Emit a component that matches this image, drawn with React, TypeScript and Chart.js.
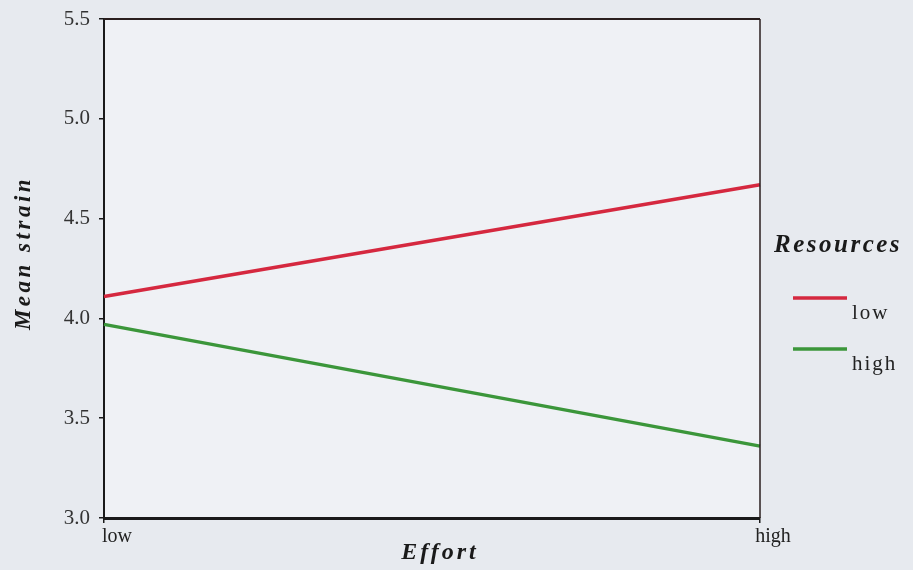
import React, { useEffect, useRef } from "react";
import { Chart, registerables } from "chart.js";

Chart.register(...registerables);

// Effort levels on the x axis
const effortLevels: string[] = ["low", "high"];
// Mean strain per effort level, one series per resources level
const strainLowResources: number[] = [4.11, 4.67];
const strainHighResources: number[] = [3.97, 3.36];
const seriesNames: string[] = ["low", "high"];
const seriesColors: string[] = ["#d5283f", "#3b963a"];
// Y axis range and step
const yMin = 3.0;
const yMax = 5.5;
const yStep = 0.5;

const SERIF = "'Liberation Serif', 'DejaVu Serif', serif";

const decorPlugin = {
  id: "decor",
  beforeDraw(chart: any) {
    const { ctx, width, height, chartArea } = chart;
    ctx.save();
    ctx.fillStyle = "#e7eaef";
    ctx.fillRect(0, 0, width, height);
    ctx.fillStyle = "#eff1f5";
    ctx.fillRect(
      chartArea.left,
      chartArea.top,
      chartArea.right - chartArea.left,
      chartArea.bottom - chartArea.top
    );
    ctx.restore();
  },
  afterDraw(chart: any) {
    const { ctx, chartArea } = chart;
    ctx.save();
    // frame: top and right edges
    ctx.strokeStyle = "#2a1e1e";
    ctx.lineWidth = 2;
    ctx.beginPath();
    ctx.moveTo(chartArea.left, chartArea.top);
    ctx.lineTo(chartArea.right, chartArea.top);
    ctx.stroke();
    ctx.lineWidth = 1.5;
    ctx.beginPath();
    ctx.moveTo(chartArea.right, chartArea.top);
    ctx.lineTo(chartArea.right, chartArea.bottom);
    ctx.stroke();

    ctx.fillStyle = "#1a1a1a";
    // y title
    ctx.save();
    ctx.translate(24, 253);
    ctx.rotate(-Math.PI / 2);
    ctx.font = `bold italic 23px ${SERIF}`;
    (ctx as any).letterSpacing = "3.5px";
    ctx.textAlign = "center";
    ctx.textBaseline = "middle";
    ctx.fillText("Mean strain", 0, 0);
    ctx.restore();

    // x title
    ctx.save();
    ctx.font = `bold italic 24px ${SERIF}`;
    (ctx as any).letterSpacing = "3px";
    ctx.textAlign = "center";
    ctx.textBaseline = "middle";
    ctx.fillText("Effort", 440, 553);
    ctx.restore();

    // legend
    ctx.save();
    ctx.font = `bold italic 25px ${SERIF}`;
    (ctx as any).letterSpacing = "2.5px";
    ctx.textAlign = "left";
    ctx.textBaseline = "middle";
    ctx.fillText("Resources", 774, 246);
    ctx.restore();

    const legendYs = [298, 349];
    chart.data.datasets.forEach((ds: any, i: number) => {
      const y = legendYs[i];
      ctx.strokeStyle = ds.borderColor;
      ctx.lineWidth = 3.5;
      ctx.beginPath();
      ctx.moveTo(793, y);
      ctx.lineTo(847, y);
      ctx.stroke();
      ctx.save();
      ctx.font = `21px ${SERIF}`;
      (ctx as any).letterSpacing = "2px";
      ctx.fillStyle = "#222";
      ctx.textAlign = "left";
      ctx.textBaseline = "middle";
      ctx.fillText(ds.label, 852, y + 15);
      ctx.restore();
    });
    ctx.restore();
  },
};

export default function App() {
  const canvasRef = useRef<HTMLCanvasElement | null>(null);

  useEffect(() => {
    if (!canvasRef.current) return;
    const chart = new Chart(canvasRef.current, {
      type: "line",
      data: {
        labels: effortLevels,
        datasets: [
          {
            label: seriesNames[0],
            data: strainLowResources,
            borderColor: seriesColors[0],
            backgroundColor: seriesColors[0],
            borderWidth: 3.5,
            pointRadius: 0,
            tension: 0,
          },
          {
            label: seriesNames[1],
            data: strainHighResources,
            borderColor: seriesColors[1],
            backgroundColor: seriesColors[1],
            borderWidth: 3.5,
            pointRadius: 0,
            tension: 0,
          },
        ],
      },
      options: {
        animation: false,
        responsive: false,
        layout: { padding: { left: 0, right: 153, top: 19, bottom: 0 } },
        plugins: {
          legend: { display: false },
          tooltip: { enabled: false },
        },
        scales: {
          x: {
            type: "category",
            offset: false,
            grid: {
              display: true,
              drawOnChartArea: false,
              drawTicks: true,
              tickLength: 5,
              color: "#1a1a1a",
              lineWidth: 1.5,
            },
            border: { display: true, color: "#1a1a1a", width: 3 },
            ticks: {
              color: "#222",
              font: { family: SERIF, size: 20 },
              padding: 2,
              labelOffset: 13,
              maxRotation: 0,
            },
            afterFit(scale: any) {
              scale.height = 52;
              scale.paddingLeft = 0;
              scale.paddingRight = 0;
            },
          },
          y: {
            min: yMin,
            max: yMax,
            grid: {
              display: true,
              drawOnChartArea: false,
              drawTicks: true,
              tickLength: 5,
              color: "#1a1a1a",
              lineWidth: 1.5,
            },
            border: { display: true, color: "#1a1a1a", width: 2 },
            ticks: {
              stepSize: yStep,
              color: "#333",
              font: { family: SERIF, size: 21 },
              padding: 9,
              callback: (v: any) => Number(v).toFixed(1),
            },
            afterFit(scale: any) {
              scale.width = 104;
              scale.paddingTop = 0;
              scale.paddingBottom = 0;
            },
          },
        },
      },
      plugins: [decorPlugin],
    });
    return () => chart.destroy();
  }, []);

  return (
    <div style={{ position: "fixed", left: 0, top: 0, width: 913, height: 570 }}>
      <canvas ref={canvasRef} width={913} height={570} style={{ display: "block" }} />
    </div>
  );
}
